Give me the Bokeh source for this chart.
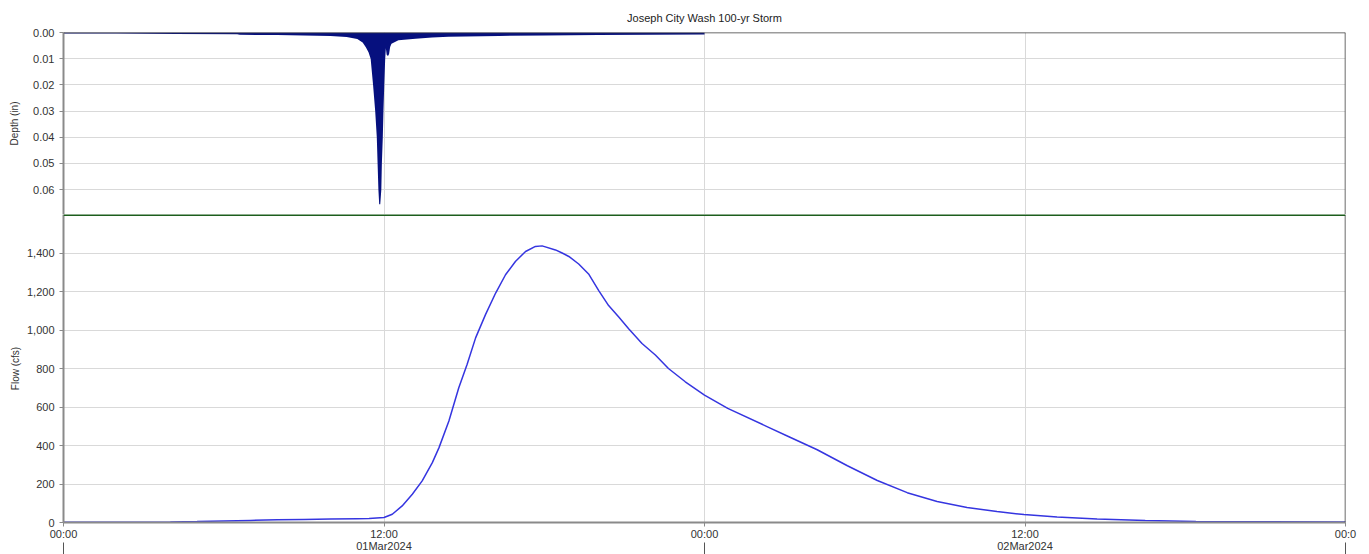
from bokeh.plotting import figure
from bokeh.layouts import column
from bokeh.models import Range1d, FixedTicker, NumeralTickFormatter, Span, LinearAxis
from bokeh.embed import file_html
from bokeh.resources import INLINE

TITLE = "Joseph City Wash 100-yr Storm"

# Incremental precipitation depth (in), hours from 01Mar2024 00:00
depth_hours = [0.0, 2.0, 4.2, 6.5, 6.6, 8.0, 9.0, 10.0, 10.6, 11.0, 11.2, 11.32, 11.42,
               11.50, 11.59, 11.67, 11.73, 11.76, 11.79, 11.82, 11.86, 11.90, 11.92,
               11.955, 11.98, 12.01, 12.045, 12.07, 12.10, 12.15, 12.19, 12.23, 12.28,
               12.54, 13.18, 13.8, 14.41, 16.3, 18.0, 20.0, 22.0, 24.0]
depth_in = [0.0004, 0.0004, 0.0006, 0.0007, 0.0009, 0.0010, 0.0011, 0.0013, 0.0017, 0.0025,
            0.0038, 0.0056, 0.0075, 0.0100, 0.0200, 0.0300, 0.0400, 0.0500, 0.0600, 0.0656,
            0.0656, 0.0600, 0.0500, 0.0400, 0.0300, 0.0200, 0.0100, 0.0060, 0.0085, 0.0090,
            0.0082, 0.0055, 0.0043, 0.0030, 0.0024, 0.0019, 0.0016, 0.0013, 0.0011, 0.0010,
            0.0009, 0.0008]

# Outflow hydrograph (cfs)
flow_hours = [0.0, 4.0, 5.0, 6.0, 7.0, 8.0, 9.0, 10.0, 11.0, 11.44, 12.0, 12.31, 12.68,
              13.06, 13.43, 13.81, 14.06, 14.43, 14.80, 15.11, 15.43, 15.80, 16.18, 16.55,
              16.92, 17.30, 17.67, 17.92, 18.42, 18.67, 18.92, 19.29, 19.66, 20.04, 20.41,
              20.79, 21.16, 21.66, 22.16, 22.65, 23.28, 24.0, 24.87, 26.36, 27.14, 28.22,
              29.35, 30.47, 31.59, 32.71, 33.83, 34.95, 35.96, 37.2, 38.7, 40.5, 42.4, 48.0]
flow_cfs = [1, 3, 5, 8, 11, 14, 16, 18, 20, 21, 26, 43, 86, 147, 216, 311, 389, 527, 700,
            821, 959, 1080, 1192, 1287, 1356, 1408, 1434, 1437, 1416, 1400, 1382, 1343,
            1291, 1205, 1127, 1067, 1007, 930, 870, 800, 731, 662, 593, 497, 447, 378,
            295, 218, 155, 109, 78, 57, 41, 28, 18, 10, 5, 2]

x_ticks = [0, 12, 24, 36, 48]
x_tick_labels = ["00:00", "12:00", "00:00", "12:00", "00:0"]
date_ticks = [12, 36]
date_labels = ["01Mar2024", "02Mar2024"]
day_bounds = [0, 24, 48]
depth_ticks = [0.0, 0.01, 0.02, 0.03, 0.04, 0.05, 0.06]
flow_ticks = [0, 200, 400, 600, 800, 1000, 1200, 1400]

FONT = "Liberation Sans"
TXT = "#333333"
GRID = "#d9d9d9"
AX = "#8a8a8a"
FRAME = "#3a3a3a"
GREEN = "#1d5e1d"
W = 1361
LEFT = 63
RIGHT = 16
DEPTH_MAX = 0.0695
FLOW_MAX = 1600

x_range = Range1d(0, 48)

top = figure(width=W, height=214, x_range=x_range, y_range=Range1d(DEPTH_MAX, 0),
             output_backend="svg", toolbar_location=None, title=TITLE,
             min_border_left=LEFT, min_border_right=RIGHT, min_border_top=32, min_border_bottom=0)
top.title.align = "center"
top.title.text_font = FONT
top.title.text_font_size = "11px"
top.title.text_font_style = "normal"
top.title.text_color = "#222222"
top.title.standoff = 17
top.xaxis.visible = False
top.xgrid.ticker = FixedTicker(ticks=x_ticks)
top.yaxis.ticker = FixedTicker(ticks=depth_ticks)
top.yaxis.formatter = NumeralTickFormatter(format="0.00")
top.yaxis.axis_label = "Depth (in)"
top.yaxis.axis_label_standoff = 10
top.varea(x=depth_hours, y1=0, y2=depth_in, color="#06107e")
top.add_layout(Span(location=0, dimension="width", line_color=FRAME, line_width=1.5))
top.add_layout(Span(location=48, dimension="height", line_color=FRAME, line_width=1.5))

bot = figure(width=W, height=340, x_range=x_range, y_range=Range1d(0, FLOW_MAX),
             output_backend="svg", toolbar_location=None,
             min_border_left=LEFT, min_border_right=RIGHT, min_border_top=0, min_border_bottom=10)
bot.xaxis.ticker = FixedTicker(ticks=x_ticks)
bot.xaxis.major_label_overrides = dict(zip(x_ticks, x_tick_labels))
bot.xaxis.major_label_standoff = 1
bot.xgrid.ticker = FixedTicker(ticks=x_ticks)
bot.yaxis.ticker = FixedTicker(ticks=flow_ticks)
bot.yaxis.formatter = NumeralTickFormatter(format="0,0")
bot.yaxis.axis_label = "Flow (cfs)"
bot.yaxis.axis_label_standoff = 3
bot.line(flow_hours, flow_cfs, color="#3535e0", line_width=1.5)
bot.add_layout(Span(location=48, dimension="height", line_color=FRAME, line_width=1.5))
bot.add_layout(Span(location=FLOW_MAX, dimension="width", line_color=GREEN, line_width=3))

date_axis = LinearAxis(ticker=FixedTicker(ticks=date_ticks, minor_ticks=day_bounds),
                       major_label_overrides=dict(zip(date_ticks, date_labels)),
                       axis_line_color=None, major_tick_line_color=None,
                       major_tick_in=0, major_tick_out=0,
                       minor_tick_line_color="#555555", minor_tick_line_width=1,
                       minor_tick_out=0, minor_tick_in=-14,
                       major_label_standoff=-3,
                       major_label_text_font=FONT, major_label_text_font_size="11px",
                       major_label_text_color=TXT)
bot.add_layout(date_axis, "below")

for p in (top, bot):
    p.outline_line_color = None
    p.ygrid.grid_line_color = GRID
    p.xgrid.grid_line_color = GRID
    p.background_fill_color = "white"
    for ax in p.yaxis + [p.xaxis[0]]:
        ax.axis_line_color = AX
        ax.axis_line_width = 2
        ax.major_tick_line_color = AX
        ax.major_tick_in = 0
        ax.major_tick_out = 4
        ax.minor_tick_line_color = None
        ax.major_label_text_font = FONT
        ax.major_label_text_font_size = "11px"
        ax.major_label_text_color = TXT
        ax.axis_label_text_font = FONT
        ax.axis_label_text_font_size = "10px"
        ax.axis_label_text_font_style = "normal"
        ax.axis_label_text_color = TXT

layout = column(top, bot, spacing=0)
open("out.html", "w").write(file_html(layout, INLINE))
